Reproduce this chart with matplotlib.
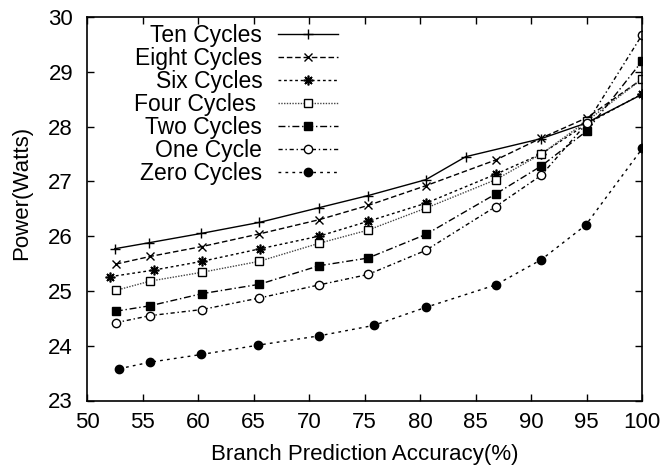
import matplotlib
matplotlib.use('Agg')
import matplotlib.pyplot as plt

# Daten
x_ten = [52.5, 55.6, 60.3, 65.5, 70.9, 75.3, 80.5, 84.1, 90.9, 94.9, 100]
x_std = [52.6, 55.7, 60.35, 65.5, 70.9, 75.3, 80.5, 86.8, 90.9, 95.0, 100]
x_six = [52.1, 56.0, 60.35, 65.6, 70.9, 75.3, 80.5, 86.8, 90.9, 95.0, 100]
x_zero = [52.9, 55.7, 60.3, 65.4, 70.9, 75.8, 80.5, 86.8, 90.9, 94.9, 100]

ten = [25.77, 25.88, 26.05, 26.25, 26.52, 26.74, 27.03, 27.45, 27.78, 28.06, 28.59]
eight = [25.49, 25.63, 25.81, 26.04, 26.30, 26.56, 26.92, 27.39, 27.79, 28.16, 28.87]
six = [25.26, 25.38, 25.54, 25.77, 26.00, 26.27, 26.60, 27.13, 27.50, 28.05, 28.60]
four = [25.01, 25.18, 25.34, 25.54, 25.87, 26.11, 26.51, 27.03, 27.50, 28.10, 28.87]
two = [24.63, 24.73, 24.95, 25.12, 25.46, 25.60, 26.03, 26.77, 27.28, 27.92, 29.20]
one = [24.42, 24.55, 24.66, 24.87, 25.11, 25.30, 25.74, 26.54, 27.11, 28.06, 29.68]
zero = [23.58, 23.70, 23.84, 24.01, 24.18, 24.37, 24.70, 25.11, 25.57, 26.20, 27.60]

labels = ['Ten Cycles', 'Eight Cycles', 'Six Cycles', 'Four Cycles ',
          'Two Cycles', 'One Cycle', 'Zero Cycles']
x_ticks = [50, 55, 60, 65, 70, 75, 80, 85, 90, 95, 100]
y_ticks = [23, 24, 25, 26, 27, 28, 29, 30]

plt.rcParams['font.family'] = ['Liberation Sans', 'DejaVu Sans']
plt.rcParams['font.size'] = 16

fig = plt.figure(figsize=(6.71, 4.70), dpi=100)
ax = fig.add_axes([87 / 671, 1 - 400.5 / 470, 555.3 / 671, 383.5 / 470])

lw = 1.0
ax.plot(x_ten, ten, color='black', lw=lw, ls='-', marker='+', ms=7, mew=1, label=labels[0])
ax.plot(x_std, eight, color='black', lw=lw, ls=(0, (4, 2)), marker='x', ms=6, mew=1, label=labels[1])
ax.plot(x_six, six, color='black', lw=lw, ls=(0, (2, 2)), marker=(8, 2, 0), ms=7, mew=1.2, label=labels[2])
ax.plot(x_std, four, color='#444444', lw=lw, ls=(0, (1, 1)), marker='s', ms=6, mew=1,
        mfc='white', mec='black', label=labels[3])
ax.plot(x_std, two, color='black', lw=lw, ls=(0, (5, 2, 1, 2)), marker='s', ms=6, mew=1, label=labels[4])
ax.plot(x_std, one, color='black', lw=lw, ls=(0, (3, 2, 1, 2)), marker='o', ms=6, mew=1,
        mfc='white', mec='black', label=labels[5])
ax.plot(x_zero, zero, color='black', lw=lw, ls=(0, (2, 3)), marker='o', ms=6, mew=1, label=labels[6])

ax.set_xlim(50, 100)
ax.set_ylim(23, 30)
ax.set_xticks(x_ticks)
ax.set_yticks(y_ticks)
ax.tick_params(direction='in', length=5, width=1, top=True, right=True, labelsize=16)
ax.tick_params(axis='x', pad=8)
ax.tick_params(axis='y', pad=10)
for s in ax.spines.values():
    s.set_linewidth(1.2)

ax.set_xlabel('Branch Prediction Accuracy(%)', fontsize=16, labelpad=8)
fig.text(22 / 671, 1 - 193 / 470, 'Power(Watts)', rotation=90, ha='center', va='center',
         fontsize=16, family=['Liberation Sans Narrow', 'Liberation Sans', 'DejaVu Sans'])

leg = ax.legend(loc='upper right', bbox_to_anchor=(0.452, 0.982), frameon=False,
                markerfirst=False, numpoints=1, handlelength=2.6, handletextpad=0.7,
                labelspacing=0.0, borderpad=0, borderaxespad=0, fontsize=16.5)

fig.savefig('out.png', dpi=100)
